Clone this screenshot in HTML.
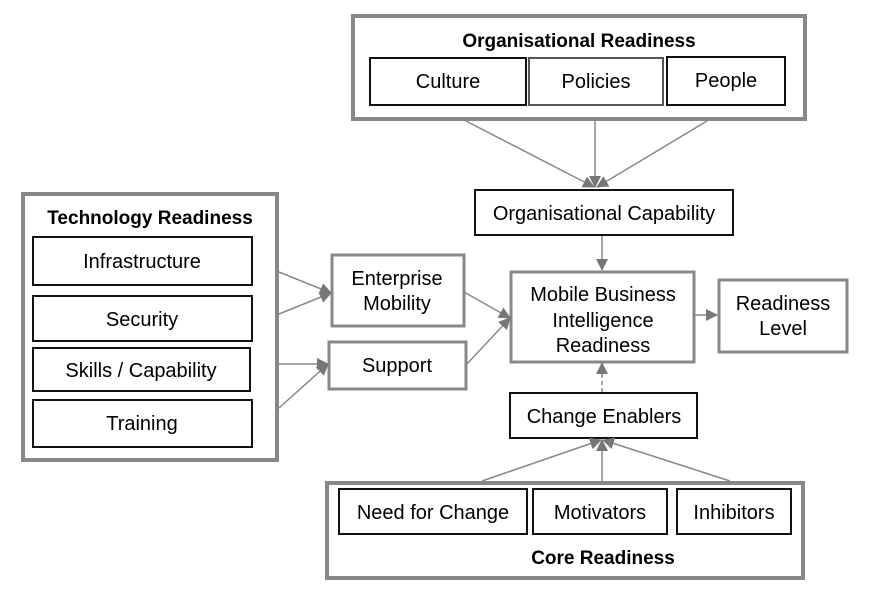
<!DOCTYPE html>
<html><head><style>
body{margin:0;background:#fff;}
svg text{font-family:"Liberation Sans",Arial,sans-serif;fill:#000;}
</style></head><body>
<svg width="883" height="592" viewBox="0 0 883 592" xmlns="http://www.w3.org/2000/svg">
<defs>
<marker id="a" markerWidth="12" markerHeight="12" refX="11" refY="6" orient="auto" markerUnits="userSpaceOnUse">
<path d="M0,0 L12,6 L0,12 z" fill="#777"/></marker>
</defs>
<g fill="#fff">
<rect x="353" y="16" width="452" height="103" stroke="#888" stroke-width="4"/>
<rect x="23" y="194" width="254" height="266" stroke="#888" stroke-width="4"/>
<rect x="327" y="483" width="476" height="95" stroke="#888" stroke-width="4"/>
</g>
<g fill="#fff" stroke="#111" stroke-width="2">
<rect x="370" y="58" width="156" height="47"/>
<rect x="529" y="58" width="134" height="47" stroke="#555"/>
<rect x="667" y="57" width="118" height="48"/>
<rect x="475" y="190" width="258" height="45"/>
<rect x="33" y="237" width="219" height="48"/>
<rect x="33" y="296" width="219" height="45"/>
<rect x="33" y="348" width="217" height="43"/>
<rect x="33" y="400" width="219" height="47"/>
<rect x="510" y="393" width="187" height="45"/>
<rect x="339" y="489" width="188" height="45"/>
<rect x="533" y="489" width="134" height="45"/>
<rect x="677" y="489" width="114" height="45"/>
</g>
<g fill="#fff" stroke="#888" stroke-width="3">
<rect x="332" y="255" width="132" height="71"/>
<rect x="329" y="342" width="137" height="47"/>
<rect x="511" y="272" width="183" height="90"/>
<rect x="719" y="280" width="128" height="72"/>
</g>
<g stroke="#888" stroke-width="1.5" fill="none">
<line x1="466" y1="121" x2="594" y2="187" marker-end="url(#a)"/>
<line x1="595" y1="121" x2="595" y2="187" marker-end="url(#a)"/>
<line x1="707" y1="121" x2="597" y2="187" marker-end="url(#a)"/>
<line x1="602" y1="236" x2="602" y2="270" marker-end="url(#a)"/>
<line x1="279" y1="272" x2="331" y2="293" marker-end="url(#a)"/>
<line x1="279" y1="314" x2="331" y2="293" marker-end="url(#a)"/>
<line x1="279" y1="364" x2="328" y2="364" marker-end="url(#a)"/>
<line x1="279" y1="408" x2="328" y2="364" marker-end="url(#a)"/>
<line x1="464" y1="292" x2="510" y2="318" marker-end="url(#a)"/>
<line x1="466" y1="365" x2="510" y2="318" marker-end="url(#a)"/>
<line x1="695" y1="315" x2="717" y2="315" marker-end="url(#a)"/>
<line x1="602" y1="392" x2="602" y2="363" stroke-dasharray="4,3" marker-end="url(#a)"/>
<line x1="482" y1="481" x2="601" y2="440" marker-end="url(#a)"/>
<line x1="602" y1="481" x2="602" y2="440" marker-end="url(#a)"/>
<line x1="730" y1="481" x2="603" y2="440" marker-end="url(#a)"/>
</g>
<g font-size="20" text-anchor="middle">
<text x="579" y="47" font-weight="bold" font-size="19">Organisational Readiness</text>
<text x="448" y="88">Culture</text>
<text x="596" y="88">Policies</text>
<text x="726" y="87">People</text>
<text x="604" y="220">Organisational Capability</text>
<text x="150" y="224" font-weight="bold" font-size="19">Technology Readiness</text>
<text x="142" y="268">Infrastructure</text>
<text x="142" y="326">Security</text>
<text x="141" y="377">Skills / Capability</text>
<text x="142" y="430">Training</text>
<text x="397" y="285">Enterprise</text>
<text x="397" y="310">Mobility</text>
<text x="397" y="372">Support</text>
<text x="603" y="301">Mobile Business</text>
<text x="603" y="327">Intelligence</text>
<text x="603" y="352">Readiness</text>
<text x="783" y="310">Readiness</text>
<text x="783" y="335">Level</text>
<text x="604" y="423">Change Enablers</text>
<text x="433" y="519">Need for Change</text>
<text x="600" y="519">Motivators</text>
<text x="734" y="519">Inhibitors</text>
<text x="603" y="564" font-weight="bold" font-size="19">Core Readiness</text>
</g>
</svg>
</body></html>
